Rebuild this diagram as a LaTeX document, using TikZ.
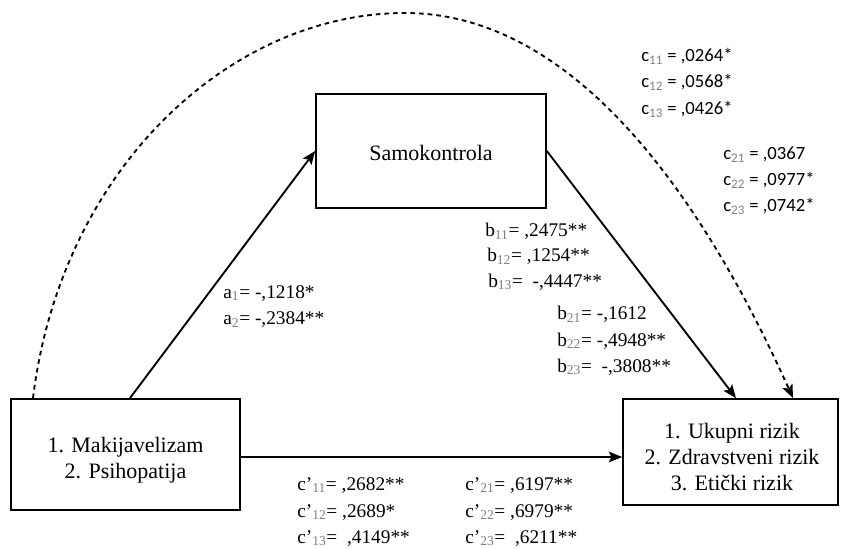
\documentclass[tikz,border=0pt]{standalone}
\usepackage{fontspec}
\setmainfont{Liberation Serif}
\newfontfamily\cfont{Carlito}
\usetikzlibrary{arrows.meta}
\newcommand\sbs[1]{\textsubscript{\textcolor{gray}{#1}}}
\newcommand\lbl[5][lab]{\node[#1,anchor=base west] (#2) at (#3,#4) {#5};}
\tikzset{
  box/.style={draw,line width=1.3pt,inner sep=0pt},
  boxtext/.style={inner sep=0pt,align=center,font=\fontsize{16.5}{19.5}\selectfont},
  lab/.style={inner sep=0pt,font=\fontsize{14.5}{16}\selectfont},
  labc/.style={inner sep=0pt,font=\cfont\fontsize{14}{16}\selectfont},
  arr/.style={line width=1.4pt,-{Stealth[length=10pt,width=8pt,inset=2pt]}},
  darr/.style={line width=1.4pt,dash pattern=on 3.5pt off 3pt,-{Stealth[length=10pt,width=8pt,inset=2pt]}}
}
\begin{document}
\begin{tikzpicture}[x=0.75pt,y=-0.75pt]
\useasboundingbox (0,0) rectangle (843,549);
\node[box,minimum width=229*0.75pt,minimum height=111*0.75pt] (L) at (125.5,454.5) {};
\node[boxtext] (Lt) at (125.5,460) {1. Makijavelizam\\2. Psihopatija};
\node[box,minimum width=215*0.75pt,minimum height=106*0.75pt] (R) at (730.5,452) {};
\node[boxtext] (Rt) at (732,457) {1. Ukupni rizik\\2. Zdravstveni rizik\\3. Etički rizik};
\node[box,minimum width=230*0.75pt,minimum height=114*0.75pt] (S) at (431,151) {};
\node[boxtext] (St) at (431,153) {Samokontrola};
\draw[arr] (130,0 |- L.north) -- (S.west);
\draw[arr] (S.east) -- (736,0 |- R.north);
\draw[arr] (L.east |- 0,457) -- (R.west |- 0,457);
\coordinate (top) at (405,13);
\draw[darr] (33,0 |- L.north) .. controls (61,169) and (230,13) .. (top)
  .. controls (575,13) and (703,198) .. (793,0 |- R.north);
\lbl[labc]{c11}{641}{62}{c\sbs{11} = ,0264*}
\lbl[labc]{c12}{641}{88}{c\sbs{12} = ,0568*}
\lbl[labc]{c13}{641}{115}{c\sbs{13} = ,0426*}
\lbl[labc]{c21}{723}{160}{c\sbs{21} = ,0367}
\lbl[labc]{c22}{723}{186}{c\sbs{22} = ,0977*}
\lbl[labc]{c23}{723}{212}{c\sbs{23} = ,0742*}
\lbl{b11}{485}{237}{b\sbs{11}= ,2475**}
\lbl{b12}{487}{262}{b\sbs{12}= ,1254**}
\lbl{b13}{488}{287}{b\sbs{13}= \ -,4447**}
\lbl{b21}{557}{320}{b\sbs{21}= -,1612}
\lbl{b22}{557}{346}{b\sbs{22}= -,4948**}
\lbl{b23}{557}{372}{b\sbs{23}= \ -,3808**}
\lbl{a1}{223}{298}{a\sbs{1}= -,1218*}
\lbl{a2}{223}{325}{a\sbs{2}= -,2384**}
\lbl{cp11}{297}{490}{c'\sbs{11}= ,2682**}
\lbl{cp12}{297}{517}{c'\sbs{12}= ,2689*}
\lbl{cp13}{297}{543}{c'\sbs{13}= \ ,4149**}
\lbl{cp21}{465}{490}{c'\sbs{21}= ,6197**}
\lbl{cp22}{465}{517}{c'\sbs{22}= ,6979**}
\lbl{cp23}{465}{543}{c'\sbs{23}= \ ,6211**}
\end{tikzpicture}
\end{document}
